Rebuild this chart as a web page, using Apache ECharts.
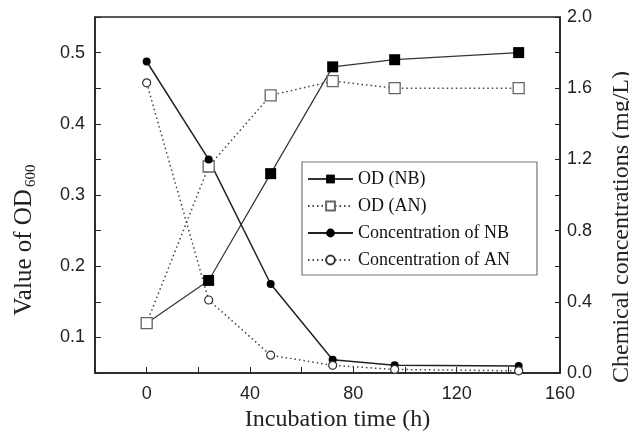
<!DOCTYPE html>
<html>
<head>
<meta charset="utf-8">
<script src="https://cdn.jsdelivr.net/npm/echarts@6/dist/echarts.min.js"></script>
<style>
  html, body { margin: 0; padding: 0; background: #fff; }
  #chart { width: 629px; height: 439px; }
</style>
</head>
<body>
<div id="chart"></div>
<script>
// 培养时间 (h)
var hours = [0, 24, 48, 72, 96, 144];
// OD600
var odNB = [0.12, 0.18, 0.33, 0.48, 0.49, 0.5];
var odAN = [0.12, 0.34, 0.44, 0.46, 0.45, 0.45];
// 浓度 mg/L
var concNB = [1.75, 1.2, 0.5, 0.075, 0.043, 0.04];
var concAN = [1.63, 0.41, 0.1, 0.043, 0.02, 0.012];
// 刻度标签
var xLabels = [0, 40, 80, 120, 160];
var odLabels = [0.1, 0.2, 0.3, 0.4, 0.5];
var concLabels = [0, 0.4, 0.8, 1.2, 1.6, 2.0];

function pairs(xs, ys) {
  return xs.map(function (x, i) { return [x, ys[i]]; });
}

var chart = echarts.init(document.getElementById("chart"));
var sansFont = "Liberation Sans";
var serifFont = "Liberation Serif";

var option = {
  animation: false,
  grid: {
    left: 95,
    top: 17,
    width: 465,
    height: 356,
    containLabel: false,
    outerBoundsMode: "none",
    show: true,
    borderColor: "#222",
    borderWidth: 1.5
  },
  legend: {
    orient: "vertical",
    left: 302,
    top: 162,
    itemWidth: 45,
    itemHeight: 11,
    itemGap: 9,
    padding: [8, 27, 6, 5],
    borderColor: "#777",
    borderWidth: 1.2,
    textStyle: { fontFamily: serifFont, fontSize: 18, color: "#111" },
    data: ["OD (NB)", "OD (AN)", "Concentration of NB", "Concentration of AN"]
  },
  xAxis: {
    type: "value",
    min: -20,
    max: 160,
    interval: 20,
    name: "Incubation time (h)",
    nameLocation: "middle",
    nameGap: 33,
    nameTextStyle: {
      fontFamily: serifFont,
      fontSize: 24,
      color: "#222",
      padding: [0, 0, 0, 20]
    },
    axisLine: { show: true, onZero: false, lineStyle: { color: "#222", width: 1.5 } },
    axisTick: { show: true, inside: true, length: 6, lineStyle: { color: "#222" } },
    axisLabel: {
      customValues: xLabels,
      margin: 12,
      fontFamily: sansFont,
      fontSize: 18,
      color: "#222"
    },
    splitLine: { show: false }
  },
  yAxis: [
    {
      type: "value",
      min: 0.05,
      max: 0.55,
      interval: 0.05,
      name: "{a|Value of OD}{s|600}",
      nameLocation: "middle",
      nameRotate: 90,
      nameGap: 56,
      nameTextStyle: {
        padding: [0, 90, 0, 0],
        rich: {
          a: { fontFamily: serifFont, fontSize: 25, color: "#222" },
          s: { fontFamily: serifFont, fontSize: 15, color: "#222", verticalAlign: "bottom", padding: [15, 0, 0, 2] }
        }
      },
      axisLine: { show: true, onZero: false, lineStyle: { color: "#222", width: 1.5 } },
      axisTick: { show: true, inside: true, length: 6, lineStyle: { color: "#222" } },
      axisLabel: {
        customValues: odLabels,
        margin: 10,
        fontFamily: sansFont,
        fontSize: 18,
        color: "#222",
        formatter: function (v) { return v.toFixed(1); }
      },
      splitLine: { show: false }
    },
    {
      type: "value",
      min: 0,
      max: 2,
      interval: 0.2,
      position: "right",
      name: "Chemical concentrations (mg/L)",
      nameLocation: "middle",
      nameRotate: 90,
      nameGap: 50,
      nameTextStyle: {
        fontFamily: serifFont,
        fontSize: 24,
        color: "#222",
        padding: [0, 64, 0, 0]
      },
      axisLine: { show: true, onZero: false, lineStyle: { color: "#222", width: 1.5 } },
      axisTick: { show: true, inside: true, length: 5, lineStyle: { color: "#222" } },
      axisLabel: {
        customValues: concLabels,
        margin: 7,
        fontFamily: sansFont,
        fontSize: 18,
        color: "#222",
        formatter: function (v) { return v.toFixed(1); }
      },
      splitLine: { show: false }
    }
  ],
  series: [
    {
      name: "OD (NB)",
      type: "line",
      yAxisIndex: 0,
      data: pairs(hours, odNB),
      symbol: "rect",
      symbolSize: 11,
      itemStyle: { color: "#000" },
      lineStyle: { color: "#333", width: 1.2, type: "solid" }
    },
    {
      name: "OD (AN)",
      type: "line",
      yAxisIndex: 0,
      data: pairs(hours, odAN),
      symbol: "rect",
      symbolSize: 11,
      itemStyle: { color: "#fff", borderColor: "#666", borderWidth: 1.3 },
      lineStyle: { color: "#444", width: 1.5, type: [1.5, 3] }
    },
    {
      name: "Concentration of NB",
      type: "line",
      yAxisIndex: 1,
      data: pairs(hours, concNB),
      symbol: "circle",
      symbolSize: 8,
      itemStyle: { color: "#000" },
      lineStyle: { color: "#222", width: 1.5, type: "solid" }
    },
    {
      name: "Concentration of AN",
      type: "line",
      yAxisIndex: 1,
      data: pairs(hours, concAN),
      symbol: "circle",
      symbolSize: 8,
      itemStyle: { color: "#fff", borderColor: "#333", borderWidth: 1.2 },
      lineStyle: { color: "#444", width: 1.5, type: [1.5, 3] }
    }
  ]
};

chart.setOption(option);
window.addEventListener("resize", function () {
  chart.resize();
});
</script>
</body>
</html>
